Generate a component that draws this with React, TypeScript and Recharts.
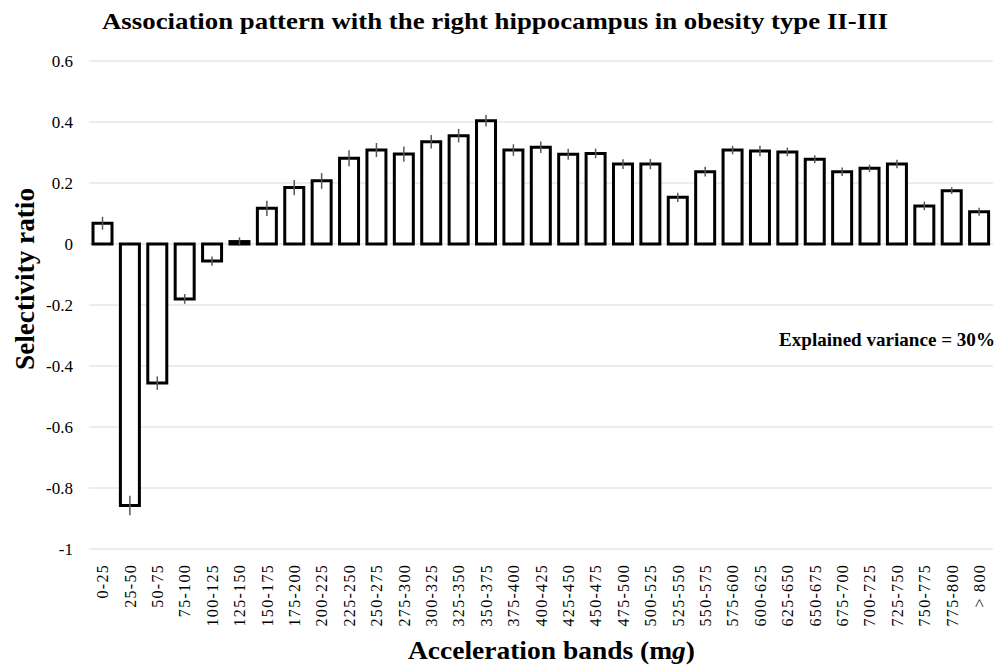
import React from "react";
import { BarChart, Bar, XAxis, YAxis, CartesianGrid, ErrorBar } from "recharts";

const categories = [
  "0-25", "25-50", "50-75", "75-100", "100-125", "125-150", "150-175", "175-200",
  "200-225", "225-250", "250-275", "275-300", "300-325", "325-350", "350-375", "375-400",
  "400-425", "425-450", "450-475", "475-500", "500-525", "525-550", "550-575", "575-600",
  "600-625", "625-650", "650-675", "675-700", "700-725", "725-750", "750-775", "775-800", "> 800",
];

const selectivity = [
  0.068, -0.857, -0.456, -0.18, -0.056, 0.008, 0.117, 0.185,
  0.207, 0.281, 0.308, 0.295, 0.335, 0.355, 0.404, 0.308,
  0.317, 0.294, 0.297, 0.262, 0.262, 0.153, 0.237, 0.308,
  0.305, 0.302, 0.278, 0.237, 0.248, 0.262, 0.125, 0.175, 0.106,
];

const errors = [
  0.021, 0.032, 0.022, 0.016, 0.015, 0.014, 0.025, 0.025,
  0.026, 0.026, 0.023, 0.025, 0.022, 0.022, 0.019, 0.019,
  0.019, 0.018, 0.016, 0.016, 0.017, 0.015, 0.016, 0.014,
  0.017, 0.014, 0.013, 0.014, 0.012, 0.014, 0.014, 0.011, 0.013,
];

const yTicks = [-1, -0.8, -0.6, -0.4, -0.2, 0, 0.2, 0.4, 0.6];

const data = categories.map((c, i) => ({ band: c, value: selectivity[i], err: errors[i] }));

const FONT = "Liberation Serif, Times New Roman, serif";

const XTick = (props: any) => {
  const { x, y, payload } = props;
  const ty = y + 7;
  return (
    <text
      x={x}
      y={ty}
      transform={`rotate(-90, ${x}, ${ty})`}
      textAnchor="end"
      dy="0.35em"
      fontFamily={FONT}
      fontSize={16}
      letterSpacing={1.3}
      fill="#000"
    >
      {payload.value}
    </text>
  );
};

const YTick = (props: any) => {
  const { y, payload } = props;
  return (
    <text x={73} y={y} dy="0.35em" textAnchor="end" fontFamily={FONT} fontSize={17} fill="#000">
      {String(payload.value)}
    </text>
  );
};

export default function App() {
  return (
    <div style={{ position: "absolute", left: 0, top: 0, width: 1001, height: 666, background: "#fff" }}>
      <BarChart
        width={1001}
        height={666}
        data={data}
        margin={{ top: 61, right: 8, bottom: 0, left: 29 }}
        barCategoryGap={0}
      >
        <CartesianGrid vertical={false} stroke="#d9d9d9" strokeWidth={1} />
        <XAxis
          dataKey="band"
          axisLine={false}
          tickLine={false}
          interval={0}
          height={117}
          tick={<XTick />}
        />
        <YAxis
          domain={[-1, 0.6]}
          ticks={yTicks}
          axisLine={false}
          tickLine={false}
          width={60}
          tick={<YTick />}
        />
        <Bar dataKey="value" fill="#fff" stroke="#000" strokeWidth={3} barSize={19} isAnimationActive={false}>
          <ErrorBar dataKey="err" width={0} stroke="#595959" strokeWidth={1.5} direction="y" />
        </Bar>
      </BarChart>
      <svg
        width={1001}
        height={666}
        style={{ position: "absolute", left: 0, top: 0, pointerEvents: "none" }}
      >
        <text
          x={102}
          y={29}
          fontFamily={FONT}
          fontWeight="bold"
          fontSize={24}
          textLength={786}
          lengthAdjust="spacingAndGlyphs"
          fill="#000"
        >
          Association pattern with the right hippocampus in obesity type II-III
        </text>
        <text
          x={34}
          y={279}
          transform="rotate(-90, 34, 279)"
          textAnchor="middle"
          fontFamily={FONT}
          fontWeight="bold"
          fontSize={27}
          textLength={182}
          lengthAdjust="spacingAndGlyphs"
          fill="#000"
        >
          Selectivity ratio
        </text>
        <text
          x={408}
          y={659}
          fontFamily={FONT}
          fontWeight="bold"
          fontSize={26}
          textLength={287}
          lengthAdjust="spacingAndGlyphs"
          fill="#000"
        >
          Acceleration bands (m<tspan fontStyle="italic">g</tspan>)
        </text>
        <text
          x={779}
          y={346}
          fontFamily={FONT}
          fontWeight="bold"
          fontSize={19}
          textLength={216}
          lengthAdjust="spacingAndGlyphs"
          fill="#000"
        >
          Explained variance = 30%
        </text>
      </svg>
    </div>
  );
}
